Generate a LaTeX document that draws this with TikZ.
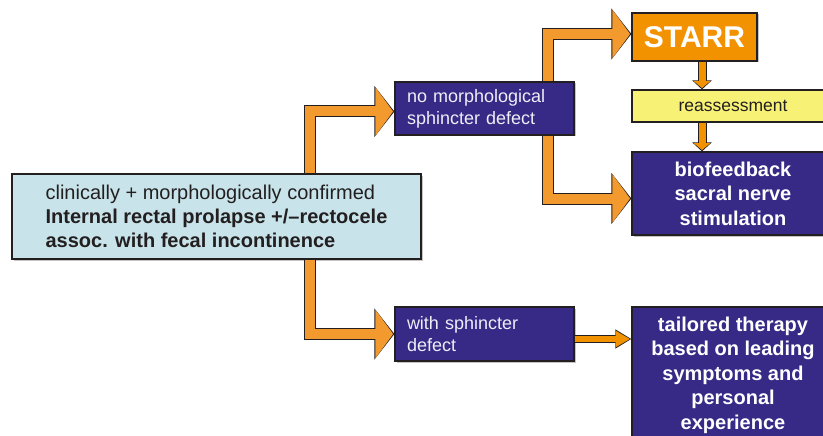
\documentclass[tikz,border=0pt]{standalone}
\usepackage{fontspec}
\setmainfont{Liberation Sans}
\usetikzlibrary{arrows.meta,shadows}
\definecolor{boxblue}{HTML}{372A87}
\definecolor{starrorange}{HTML}{F39200}
\definecolor{arrowfill}{HTML}{F39A2E}
\definecolor{paleblue}{HTML}{C8E4EA}
\definecolor{paleyellow}{HTML}{F7F176}
\definecolor{edgegray}{HTML}{231F20}
\definecolor{softwhite}{HTML}{EEEEF6}

\begin{document}
\begin{tikzpicture}[x=1pt,y=-1pt]
    \tikzset{box/.style={draw=edgegray, line width=1.2pt, inner sep=0pt,
        drop shadow={shadow xshift=1.5pt, shadow yshift=-1.5pt, fill=black!45, opacity=.5}},
      smallbox/.style={box, fill=boxblue, text=softwhite, minimum width=179pt,
        inner xsep=12pt, text width=155pt, align=left,
        font=\fontsize{18}{22}\selectfont},
      bigbox/.style={box, fill=boxblue, text=white, minimum width=202pt, align=center,
        font=\bfseries\fontsize{20}{24.5}\selectfont},
      fatarrow/.style={draw=arrowfill, line width=10pt, line join=miter,
        shorten >=1.3pt, -{Triangle[length=17.7pt,width=47.5pt]},
        preaction={draw=edgegray, line width=12pt, line join=miter,
          shorten >=0pt, -{Triangle[length=20pt,width=50pt]}}},
      thinarrow/.style={draw=starrorange, line width=6pt, line join=miter,
        shorten >=1.3pt, -{Triangle[length=14.5pt,width=15.5pt]},
        preaction={draw=edgegray, line width=8pt,
          shorten >=0pt, -{Triangle[length=16pt,width=18pt]}}},
      downarrow/.style={draw=starrorange, line width=7pt,
        shorten >=1.4pt, -{Triangle[length=7pt,width=16.5pt]},
        preaction={draw=edgegray, line width=9pt,
          shorten >=0pt, -{Triangle[length=9pt,width=19pt]}}}}
    \useasboundingbox (0,0) rectangle (823,436);
    \clip (0,0) rectangle (823,436);

    \node[box, fill=paleblue, text=edgegray, minimum width=409pt, minimum height=85pt,
      align=left, font=\fontsize{20}{24}\selectfont] (main) at (216.5,216.5)
      {clinically + morphologically confirmed\\
       \textbf{Internal rectal prolapse +/–rectocele}\\
       \textbf{assoc. with fecal incontinence}};
    \node[smallbox, minimum height=53pt] (nomorph) at (484.5,108.5)
      {no morphological\\sphincter defect};
    \node[smallbox, minimum height=54pt] (withdef) at (484.5,334)
      {with sphincter\\defect};
    \node[box, fill=starrorange, text=white, minimum width=125pt, minimum height=48pt,
      font=\bfseries\fontsize{30}{30}\selectfont] (starr) at (694.5,37) {STARR};
    \node[box, fill=paleyellow, text=edgegray, minimum width=202pt, minimum height=32pt,
      font=\fontsize{17.5}{20}\selectfont] (reass) at (733,106) {reassessment};
    \node[bigbox, minimum height=83pt] (bio) at (733,193.5)
      {biofeedback\\sacral nerve\\stimulation};
    \node[bigbox, minimum height=136pt] (tail) at (733,375)
      {tailored therapy\\based on leading\\symptoms and\\personal\\experience};

    \coordinate (lv) at (309.5,0);
    \coordinate (rv) at (548,0);
    \coordinate (dv) at (702,0);

    \draw[fatarrow] (main.north -| lv) |- ([yshift=-3pt]nomorph.west);
    \draw[fatarrow] (main.south -| lv) |- (withdef.west);
    \draw[fatarrow] (nomorph.north -| rv) |- ([yshift=3pt]starr.west);
    \draw[fatarrow] (nomorph.south -| rv) |- ([yshift=-5pt]bio.west);
    \draw[thinarrow] ([yshift=-5pt]withdef.east) -- ([yshift=-5pt]withdef.east -| tail.west);
    \draw[downarrow] (starr.south -| dv) -- (reass.north -| dv);
    \draw[downarrow] (reass.south -| dv) -- (bio.north -| dv);
\end{tikzpicture}
\end{document}
